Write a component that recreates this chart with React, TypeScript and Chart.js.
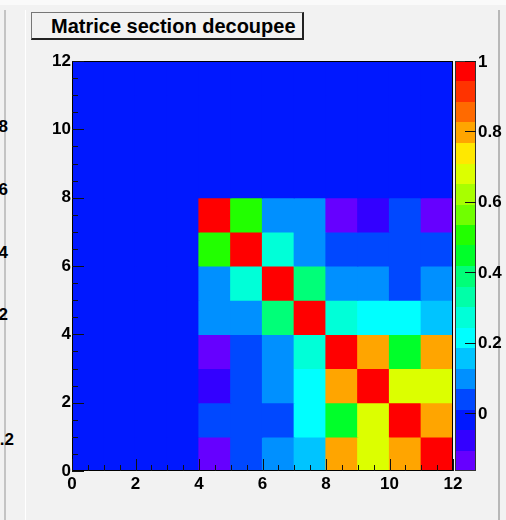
import React, { useEffect, useRef } from 'react';
import { Chart, registerables } from 'chart.js';

Chart.register(...registerables);

// ---------- data ----------
const titleText = 'Matrice section decoupee';
const xBinEdges = [0, 1, 2, 3, 4, 5, 6, 7, 8, 9, 10, 11];
const yBinEdges = [0, 1, 2, 3, 4, 5, 6, 7, 8, 9, 10, 11];
const axisMin = 0;
const axisMax = 12;
const axisLabelStep = 2;
// origin (lower-left bin) of the filled 8x8 block
const blockX0 = 4;
const blockTopY = 7;
// rows of the block, top row (y=7) first, columns x=4..11
const corrRow0 = [1.0, 0.5, 0.1, 0.1, -0.14, -0.08, 0.04, -0.14];
const corrRow1 = [0.5, 1.0, 0.27, 0.1, 0.04, 0.04, 0.04, 0.04];
const corrRow2 = [0.1, 0.27, 1.0, 0.39, 0.1, 0.1, 0.04, 0.1];
const corrRow3 = [0.1, 0.1, 0.39, 1.0, 0.27, 0.21, 0.21, 0.15];
const corrRow4 = [-0.14, 0.04, 0.1, 0.27, 1.0, 0.8, 0.45, 0.8];
const corrRow5 = [-0.08, 0.04, 0.1, 0.21, 0.8, 1.0, 0.68, 0.68];
const corrRow6 = [0.04, 0.04, 0.04, 0.21, 0.45, 0.68, 1.0, 0.8];
const corrRow7 = [-0.14, 0.04, 0.1, 0.15, 0.8, 0.68, 0.8, 1.0];
const corrRows = [corrRow0, corrRow1, corrRow2, corrRow3, corrRow4, corrRow5, corrRow6, corrRow7];
const zMin = -0.165;
const zMax = 1.0;
const zTicks = [0, 0.2, 0.4, 0.6, 0.8, 1];
const zTickLabels = ['0', '0.2', '0.4', '0.6', '0.8', '1'];
// palette, lowest level first
const paletteColors = [
  '#6600ff', '#3300ff', '#0018ff', '#0048ff', '#0090ff',
  '#00c4ff', '#00ffff', '#00ffd8', '#00ffa8', '#00ff78',
  '#00ff2a', '#22ff00', '#70ff00', '#a8ff00', '#dcff00',
  '#ffe800', '#ffa500', '#ff6a00', '#ff3300', '#ff0000',
];
// clipped labels of the neighbouring pad
const sideLabels = ['8', '6', '4', '2', '.2'];
const sideLabelTops = [117, 180, 243, 305, 430];
const sideLabelRights = [8, 8, 8, 8, 14];

// ---------- helpers ----------
const FONT = "'Liberation Sans', Arial, Helvetica, sans-serif";

function cellValue(ix: number, iy: number): number {
  const i = ix - blockX0;
  const j = blockTopY - iy;
  if (i >= 0 && i < 8 && j >= 0 && j < 8) return corrRows[j][i];
  return 0;
}

function colorFor(v: number): string {
  const n = paletteColors.length;
  let k = Math.floor(((v - zMin) / (zMax - zMin)) * n);
  if (k < 0) k = 0;
  if (k > n - 1) k = n - 1;
  return paletteColors[k];
}

const framePlugin = {
  id: 'rootFrame',
  afterDatasetsDraw(chart: any) {
    const { ctx, chartArea: a, scales } = chart;
    const xs = scales.x;
    const ys = scales.y;
    const zs = scales.z;
    ctx.save();
    // frame
    ctx.strokeStyle = '#000';
    ctx.lineWidth = 1;
    ctx.strokeRect(Math.round(a.left) + 0.5, Math.round(a.top) + 0.5,
      Math.round(a.right - a.left) - 1, Math.round(a.bottom - a.top) - 1);
    // inner ticks
    ctx.strokeStyle = '#111';
    ctx.beginPath();
    for (let v = axisMin; v <= axisMax + 1e-9; v += 0.5) {
      const len = Math.abs(v % 2) < 1e-9 ? 12 : 6;
      const px = Math.round(xs.getPixelForValue(v)) + 0.5;
      ctx.moveTo(px, a.bottom);
      ctx.lineTo(px, a.bottom - len);
      const py = Math.round(ys.getPixelForValue(v)) + 0.5;
      ctx.moveTo(a.left, py);
      ctx.lineTo(a.left + len, py);
    }
    ctx.stroke();
    // palette
    const n = paletteColors.length;
    const step = (zMax - zMin) / n;
    const px0 = Math.round(a.right) + 2;
    const w = 21;
    for (let k = 0; k < n; k++) {
      const y0 = Math.round(zs.getPixelForValue(zMin + k * step));
      const y1 = Math.round(zs.getPixelForValue(zMin + (k + 1) * step));
      ctx.fillStyle = paletteColors[k];
      ctx.fillRect(px0, y1, w, y0 - y1);
    }
    ctx.strokeStyle = '#333';
    ctx.strokeRect(px0 + 0.5, Math.round(zs.getPixelForValue(zMax)) + 0.5, w - 1,
      Math.round(zs.getPixelForValue(zMin) - zs.getPixelForValue(zMax)) - 1);
    ctx.strokeStyle = '#111';
    ctx.beginPath();
    zTicks.forEach((t) => {
      const py = Math.round(zs.getPixelForValue(t)) + 0.5;
      ctx.moveTo(px0 + w - 11, py);
      ctx.lineTo(px0 + w, py);
    });
    ctx.stroke();
    ctx.fillStyle = '#000';
    ctx.font = `bold 17px ${FONT}`;
    ctx.textAlign = 'left';
    ctx.textBaseline = 'middle';
    zTicks.forEach((t, i) => {
      const py = zs.getPixelForValue(t);
      ctx.fillText(zTickLabels[i], px0 + w + 2, py + 1);
    });
    ctx.restore();
  },
};

export default function App() {
  const canvasRef = useRef<HTMLCanvasElement | null>(null);

  useEffect(() => {
    document.body.style.margin = '0';
    const canvas = canvasRef.current;
    if (!canvas) return;
    const points: any[] = [];
    const colors: string[] = [];
    yBinEdges.forEach((y) => {
      xBinEdges.forEach((x) => {
        points.push({ x: x + 0.5, y: [y, y + 1] });
        colors.push(colorFor(cellValue(x, y)));
      });
    });
    const tickFont = { family: FONT, size: 17, weight: 'bold' as const };
    const chart = new Chart(canvas, {
      type: 'bar',
      data: {
        datasets: [
          {
            data: points,
            backgroundColor: colors,
            borderWidth: 0,
            barPercentage: 1,
            categoryPercentage: 1,
            inflateAmount: 0.6,
          } as any,
        ],
      },
      options: {
        animation: false,
        responsive: false,
        maintainAspectRatio: false,
        events: [],
        layout: { padding: { left: 32, right: 53, top: 61, bottom: 19 } },
        plugins: { legend: { display: false }, tooltip: { enabled: false }, title: { display: false } },
        scales: {
          x: {
            type: 'linear',
            min: axisMin,
            max: axisMax,
            offset: false,
            grid: { display: false, drawTicks: false, offset: false },
            border: { display: false },
            ticks: { stepSize: axisLabelStep, color: '#000', font: tickFont, padding: 3, maxRotation: 0, autoSkip: false },
            afterFit: (s: any) => { s.height = 30; },
          },
          y: {
            type: 'linear',
            min: axisMin,
            max: axisMax,
            grid: { display: false, drawTicks: false },
            border: { display: false },
            ticks: { stepSize: axisLabelStep, color: '#000', font: tickFont, padding: 1, autoSkip: false },
            afterFit: (s: any) => { s.width = 40; },
          },
          z: {
            type: 'linear',
            position: 'right',
            display: false,
            min: zMin,
            max: zMax,
          },
        } as any,
      },
      plugins: [framePlugin],
    });
    return () => chart.destroy();
  }, []);

  return (
    <div style={{ position: 'fixed', left: 0, top: 0, width: 506, height: 520, background: '#f2f2f2', overflow: 'hidden', fontFamily: FONT }}>
      <div style={{ position: 'absolute', left: 0, top: 0, width: 506, height: 5, background: '#fafafa' }} />
      <div style={{ position: 'absolute', left: 4, top: 10, width: 2, height: 510, background: '#c4c4c4' }} />
      <div style={{ position: 'absolute', left: 25, top: 10, width: 1, height: 510, background: '#ffffff' }} />
      <div style={{ position: 'absolute', left: 498, top: 10, width: 2, height: 510, background: '#b8b8b8' }} />
      {sideLabels.map((t, i) => (
        <div key={i} style={{ position: 'absolute', left: sideLabelRights[i] - 60, width: 60, top: sideLabelTops[i], textAlign: 'right', fontWeight: 'bold', fontSize: 17, lineHeight: '20px', color: '#000' }}>{t}</div>
      ))}
      <canvas ref={canvasRef} width={506} height={520} style={{ position: 'absolute', left: 0, top: 0, display: 'block' }} />
      <div style={{ position: 'absolute', left: 31, top: 12, width: 270, height: 25, border: '1px solid #777', borderRight: '2px solid #222', borderBottom: '2px solid #222', background: '#f2f2f2', boxSizing: 'content-box' }}>
        <div style={{ position: 'absolute', left: 19, top: 0, fontWeight: 'bold', fontSize: 20, lineHeight: '26px', color: '#000', whiteSpace: 'nowrap' }}>{titleText}</div>
      </div>
    </div>
  );
}
